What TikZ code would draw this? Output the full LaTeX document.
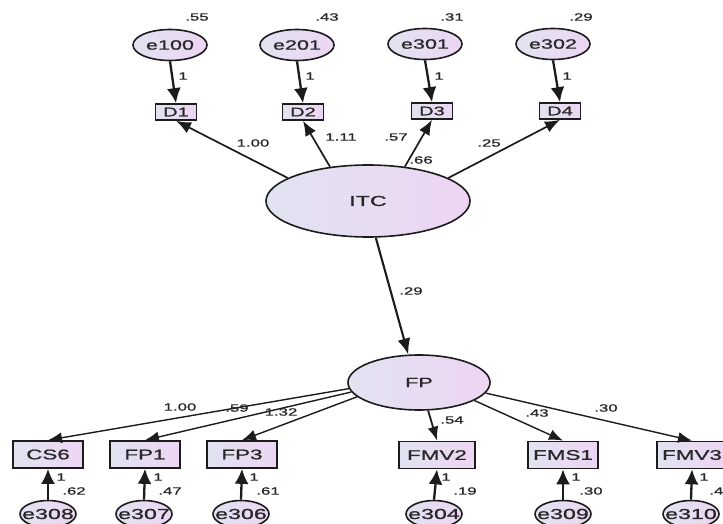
\documentclass[tikz,border=0pt]{standalone}
\usepackage{fontspec}
\setmainfont{Liberation Sans}[FakeStretch=1.6,FakeBold=1.1]
\usetikzlibrary{shapes.geometric,arrows.meta}
\definecolor{fa}{RGB}{225,227,241}
\definecolor{fb}{RGB}{237,213,243}
\definecolor{ink}{RGB}{28,28,28}
\definecolor{txt}{RGB}{40,40,40}
\newcommand\zbox[1]{\makebox[0pt]{#1}}
\tikzset{
  latent/.style={ellipse,draw=ink,line width=1.6pt,left color=fa,right color=fb,inner sep=0pt,text=txt},
  errtop/.style={latent,minimum width=74pt,minimum height=31pt,font=\fontsize{13.5}{15}\selectfont},
  errbot/.style={latent,minimum width=56pt,minimum height=27pt,font=\fontsize{14.5}{16}\selectfont},
  obstop/.style={rectangle,draw=ink,line width=1.7pt,left color=fa,right color=fb,inner sep=0pt,minimum width=41pt,minimum height=16pt,text=txt,font=\fontsize{12.5}{14}\selectfont},
  obsbot/.style={rectangle,draw=ink,line width=1.7pt,left color=fa,right color=fb,inner sep=0pt,minimum width=70pt,minimum height=27pt,text=txt,font=\fontsize{14}{16}\selectfont},
  lab/.style={inner sep=0pt,text=txt,font=\fontsize{10.5}{12}\selectfont},
  errarr/.style={draw=ink,line width=2.3pt,-{Latex[length=15pt,width=14pt]}},
  loadarr/.style={draw=ink,line width=1.7pt,-{Latex[length=15pt,width=12pt]}},
  loadbot/.style={draw=ink,line width=1.4pt,-{Latex[length=14pt,width=11pt]}},
}
\begin{document}
\begin{tikzpicture}[x=1pt,y=-1pt]
\clip (0,0) rectangle (723,524);
\fill[white] (0,0) rectangle (723,524);
% top error terms
\node[errtop] (e100) at (170,45) {\zbox{e100}};
\node[errtop] (e201) at (297,45) {\zbox{e201}};
\node[errtop] (e301) at (425,44) {\zbox{e301}};
\node[errtop] (e302) at (553,44) {\zbox{e302}};
% top indicators
\node[obstop] (D1) at (176,112) {D1};
\node[obstop] (D2) at (303,112) {D2};
\node[obstop] (D3) at (432,111) {D3};
\node[obstop] (D4) at (560,111) {D4};
% latent
\node[latent,minimum width=204pt,minimum height=72pt,font=\fontsize{14.5}{16}\selectfont] (ITC) at (368,201) {\zbox{ITC}};
\node[latent,minimum width=142pt,minimum height=55pt,font=\fontsize{13.5}{15}\selectfont] (FP) at (419,382.5) {\zbox{FP}};
% bottom indicators
\node[obsbot] (CS6) at (48,454.5) {CS6};
\node[obsbot] (FP1) at (145,454.5) {FP1};
\node[obsbot] (FP3) at (242,454.5) {FP3};
\node[obsbot,minimum width=76pt] (FMV2) at (437,455) {FMV2};
\node[obsbot] (FMS1) at (563,455) {FMS1};
\node[obsbot] (FMV3) at (692,455) {FMV3};
% bottom error terms
\node[errbot] (e308) at (48,514) {\zbox{e308}};
\node[errbot] (e307) at (144,514) {\zbox{e307}};
\node[errbot] (e306) at (241,514) {\zbox{e306}};
\node[errbot] (e304) at (434,514) {\zbox{e304}};
\node[errbot] (e309) at (563,514) {\zbox{e309}};
\node[errbot] (e310) at (691,514) {\zbox{e310}};
% top error arrows
\draw[errarr] (e100.south) -- (D1.north);
\draw[errarr] (e201.south) -- (D2.north);
\draw[errarr] (e301.south) -- (D3.north);
\draw[errarr] (e302.south) -- (D4.north);
% ITC loadings
\draw[loadarr] (ITC.164) -- (D1.south);
\draw[loadarr] (ITC.138) -- (D2.south);
\draw[loadarr] (ITC.43) -- (D3.south);
\draw[loadarr] (ITC.16) -- (D4.south);
\draw[draw=ink,line width=2.1pt,-{Latex[length=16pt,width=13pt]}] (ITC.-78) -- (FP.111);
% FP loadings
\draw[loadbot] (FP.185) -- (CS6.north);
\draw[loadbot] (FP.188) -- (FP1.north);
\draw[loadbot] (FP.193) -- (FP3.north);
\draw[loadbot,line width=1.8pt] (FP.-72) -- (FMV2.north);
\draw[loadbot] (FP.-18) -- (FMS1.north);
\draw[loadbot] (FP.-9) -- (FMV3.north);
% bottom error arrows
\draw[errarr] (e308.north) -- (CS6.south);
\draw[errarr] (e307.north) -- (FP1.south);
\draw[errarr] (e306.north) -- (FP3.south);
\draw[errarr] (e304.north) -- (FMV2.south);
\draw[errarr] (e309.north) -- (FMS1.south);
\draw[errarr] (e310.north) -- (FMV3.south);
% labels top
\node[lab] (v100) at (197,17) {.55};
\node[lab] (v201) at (327,17) {.43};
\node[lab] (v301) at (452,17) {.31};
\node[lab] (v302) at (581,17) {.29};
\node[lab] (w100) at (183,76) {1};
\node[lab] (w201) at (310,76) {1};
\node[lab] (w301) at (439,76) {1};
\node[lab] (w302) at (567,76) {1};
\node[lab] (l1) at (253,143) {1.00};
\node[lab] (l2) at (341,137) {1.11};
\node[lab] (l3) at (396,137) {.57};
\node[lab] (l3b) at (421,160) {.66};
\node[lab] (l4) at (489,143) {.25};
\node[lab] (l5) at (411,291) {.29};
% labels bottom
\node[lab] (m1) at (180,407) {1.00};
\node[lab] (m2) at (237,408) {.59};
\node[lab] (m3) at (281,412) {1.32};
\node[lab] (m4) at (452,420) {.54};
\node[lab] (m5) at (537,413) {.43};
\node[lab] (m6) at (606,408) {.30};
\node[lab] (u308) at (61,477) {1};
\node[lab] (u307) at (158,477) {1};
\node[lab] (u306) at (254,477) {1};
\node[lab] (u304) at (446,477) {1};
\node[lab] (u309) at (576,477) {1};
\node[lab] (u310) at (704,477) {1};
\node[lab] (r308) at (74,491) {.62};
\node[lab] (r307) at (170,491) {.47};
\node[lab] (r306) at (268,491) {.61};
\node[lab] (r304) at (465,491) {.19};
\node[lab] (r309) at (591,491) {.30};
\node[lab] (r310) at (721,491) {.41};
\end{tikzpicture}
\end{document}
